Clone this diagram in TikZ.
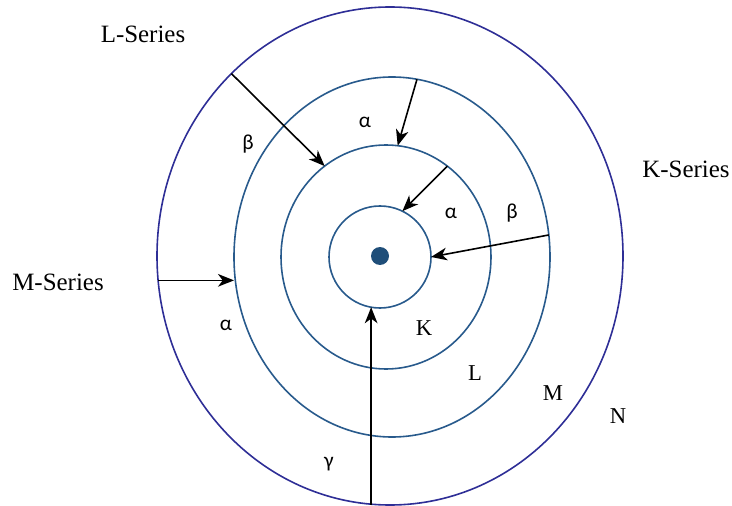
\documentclass[tikz,border=0pt]{standalone}
\usepackage{fontspec}
\setmainfont{Liberation Serif}
\newfontfamily\greekfont{Carlito}
\usetikzlibrary{shapes.geometric,arrows.meta}
\definecolor{ringblue}{RGB}{40,90,140}
\definecolor{outerblue}{RGB}{46,46,150}
\definecolor{dotblue}{RGB}{31,78,121}

\begin{document}
\begin{tikzpicture}[x=0.75pt,y=-0.75pt,
  r/.style={ellipse,draw=ringblue,line width=1.2pt,inner sep=0,outer sep=0},
  a/.style={-{Stealth[length=12pt,width=9.5pt,inset=3.5pt]},line width=1.2pt},
  s/.style={font=\fontsize{18.7}{22}\selectfont},
  sh/.style={font=\fontsize{17}{20}\selectfont},
  g/.style={font=\greekfont\fontsize{16}{19}\selectfont}]
\useasboundingbox (0,0) rectangle (732,506);
% shells
\node[r,draw=outerblue,minimum width=349.5pt,minimum height=373.5pt] (N) at (390,256) {};
\node[r,minimum width=237pt,minimum height=270pt] (M) at (392,257) {};
\node[r,minimum width=157.5pt,minimum height=168pt] (L) at (386,257) {};
\node[r,circle,minimum size=76.5pt] (K) at (380,257) {};
\node[circle,fill=dotblue,inner sep=0,minimum size=13.5pt] (nuc) at (380,256) {};
% transitions
\draw[a] (N.131) -- (L.124);
\draw[a] (M.82) -- (L.84);
\draw[a] (L.56) -- (K.64);
\draw[a] (M.8) -- (K.0);
\draw[a] (N.186) -- (N.186 -| M.west);
\draw[a] (K.260 |- N.south) -- (K.260);
% labels
\node[s] (ls) at (143,34) {L-Series};
\node[s] (ks) at (686,169) {K-Series};
\node[s] (ms) at (58,282) {M-Series};
\foreach \n/\x/\y/\t in {kk/424/328/K,ll/475/373/L,mm/553/393/M,nn/618/416/N}
  \node[sh] (\n) at (\x,\y) {\t};
\foreach \n/\x/\y/\t in {a1/365/122/α,a2/451/213/α,a3/226/325/α,b1/248/144/β,b2/512/213/β,c1/329/464/γ}
  \node[g] (\n) at (\x,\y) {\t};
\end{tikzpicture}
\end{document}
